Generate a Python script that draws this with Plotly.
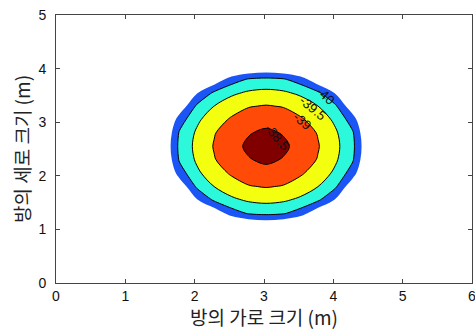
import plotly.graph_objects as go

# grid coordinates (m)
x_vals = [1.28, 1.53, 1.78, 2.03, 2.28, 2.53, 2.78, 3.03, 3.28, 3.53, 3.78, 4.03, 4.28, 4.53, 4.78]
y_vals = [0.80, 1.05, 1.30, 1.55, 1.80, 2.05, 2.30, 2.55, 2.80, 3.05, 3.30, 3.55, 3.80, 4.05, 4.30]

# estimated field values (rows follow y_vals, columns follow x_vals)
row_a = [-41.5, -41.5, -41.5, -41.5, -41.5, -41.5, -41.5, -41.5, -41.5, -41.5, -41.5, -41.5, -41.5, -41.5, -41.5]
row_b = [-41.5, -41.5, -41.5, -41.5, -41.5, -41.45, -41.2, -41.1, -41.2, -41.45, -41.5, -41.5, -41.5, -41.5, -41.5]
row_c = [-41.5, -41.5, -41.5, -41.5, -40.9, -40.25, -39.95, -39.88, -39.95, -40.25, -40.9, -41.5, -41.5, -41.5, -41.5]
row_d = [-41.5, -41.5, -41.5, -40.55, -39.92, -39.6, -39.43, -39.37, -39.43, -39.6, -39.92, -40.55, -41.5, -41.5, -41.5]
row_e = [-41.5, -41.5, -40.9, -39.92, -39.5, -39.22, -39.03, -38.97, -39.03, -39.22, -39.5, -39.92, -40.9, -41.5, -41.5]
row_f = [-41.5, -41.45, -40.25, -39.6, -39.22, -38.94, -38.75, -38.67, -38.75, -38.94, -39.22, -39.6, -40.25, -41.45, -41.5]
row_g = [-41.5, -41.2, -39.95, -39.43, -39.03, -38.75, -38.53, -38.41, -38.53, -38.75, -39.03, -39.43, -39.95, -41.2, -41.5]
row_h = [-41.5, -41.1, -39.88, -39.37, -38.97, -38.67, -38.41, -38.20, -38.41, -38.67, -38.97, -39.37, -39.88, -41.1, -41.5]
z_rows = [row_a, row_b, row_c, row_d, row_e, row_f, row_g, row_h,
          row_g, row_f, row_e, row_d, row_c, row_b, row_a]

# contour level labels
label_text = ["-40", "-39.5", "-39", "-38.5"]
label_x = [3.88, 3.71, 3.56, 3.19]
label_y = [3.49, 3.26, 3.02, 2.71]
label_angle = [42, 40, 40, 50]

x_ticks = [0, 1, 2, 3, 4, 5, 6]
y_ticks = [0, 1, 2, 3, 4, 5]

white = "#ffffff"
blue = "#1c55f5"
cyan = "#2cf8dc"
yellow = "#f4ff10"
orange = "#ff4a08"
darkred = "#800000"
colorscale = [
    [0.0, white], [1 / 6, white],
    [1 / 6, blue], [2 / 6, blue],
    [2 / 6, cyan], [3 / 6, cyan],
    [3 / 6, yellow], [4 / 6, yellow],
    [4 / 6, orange], [5 / 6, orange],
    [5 / 6, darkred], [1.0, darkred],
]

fig = go.Figure()
fig.add_trace(go.Contour(
    x=x_vals, y=y_vals, z=z_rows,
    autocontour=False,
    contours=dict(start=-40.5, end=-38.5, size=0.5, coloring="fill", showlines=False),
    colorscale=colorscale, showscale=False,
    line=dict(width=0, smoothing=1.0),
    hoverinfo="skip",
))
fig.add_trace(go.Contour(
    x=x_vals, y=y_vals, z=z_rows,
    autocontour=False,
    contours=dict(start=-40, end=-38.5, size=0.5, coloring="none", showlines=True),
    line=dict(width=1, color="black", smoothing=1.0),
    showscale=False, hoverinfo="skip",
))

for t, lx, ly, ang in zip(label_text, label_x, label_y, label_angle):
    fig.add_annotation(x=lx, y=ly, text=t, showarrow=False, textangle=ang,
                       font=dict(family="Liberation Sans, Arial", size=13, color="#111"))

axis_common = dict(
    showgrid=False, zeroline=False, showline=True, linecolor="#444", linewidth=1,
    mirror="ticks", ticks="inside", ticklen=4, tickcolor="#444", automargin=False,
    ticklabeloverflow="allow",
    tickfont=dict(family="Liberation Sans, Arial", size=14, color="#111"),
)
fig.update_layout(
    width=475, height=330,
    margin=dict(l=56, r=3, t=15, b=47),
    paper_bgcolor="white", plot_bgcolor="white",
    showlegend=False,
    xaxis=dict(range=[0, 6], tickvals=x_ticks, **axis_common,
               title=dict(text="방의 가로 크기 (m)", standoff=3,
                          font=dict(family="Noto Sans CJK KR", size=19, color="#222"))),
    yaxis=dict(range=[0, 5], tickvals=y_ticks, ticklabelstandoff=6, **axis_common,
               title=dict(text="방의 세로 크기 (m)", standoff=2,
                          font=dict(family="Noto Sans CJK KR", size=19, color="#222"))),
)
fig.write_html("out.html", config={"displayModeBar": False},
               post_script="document.body.style.margin='0';document.body.style.overflow='hidden';")
